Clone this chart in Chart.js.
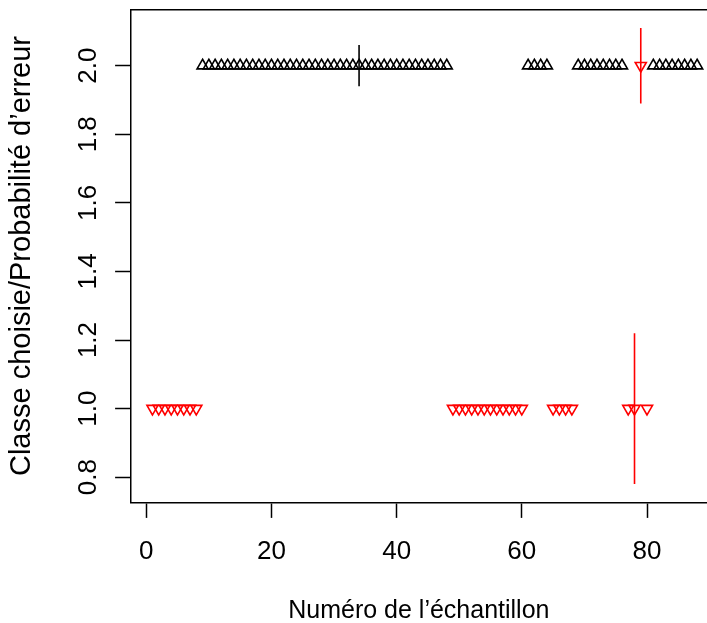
<!DOCTYPE html>
<html>
<head>
<meta charset="utf-8">
<script src="https://cdn.jsdelivr.net/npm/chart.js@4.4.1/dist/chart.umd.min.js"></script>
<style>
  html, body { margin: 0; padding: 0; background: #fff; overflow: hidden; }
  canvas { display: block; }
</style>
</head>
<body>
<canvas id="graphique" width="707" height="623"></canvas>
<script>
// classe choisie pour chaque échantillon (échantillons 1 à 88)
const classeChoisie = [
  1,1,1,1,1,1,1,1,2,2,
  2,2,2,2,2,2,2,2,2,2,
  2,2,2,2,2,2,2,2,2,2,
  2,2,2,2,2,2,2,2,2,2,
  2,2,2,2,2,2,2,2,1,1,
  1,1,1,1,1,1,1,1,1,1,
  2,2,2,2,1,1,1,1,2,2,
  2,2,2,2,2,2,1,1,2,1,
  2,2,2,2,2,2,2,2
];
// vraie classe (donne le symbole : 1 = triangle rouge pointe en bas, 2 = triangle noir)
const classeVraie = [
  1,1,1,1,1,1,1,1,2,2,
  2,2,2,2,2,2,2,2,2,2,
  2,2,2,2,2,2,2,2,2,2,
  2,2,2,2,2,2,2,2,2,2,
  2,2,2,2,2,2,2,2,1,1,
  1,1,1,1,1,1,1,1,1,1,
  2,2,2,2,1,1,1,1,2,2,
  2,2,2,2,2,2,1,1,1,1,
  2,2,2,2,2,2,2,2
];
// barres de probabilité d'erreur
const barreEchantillon = [34, 78, 79];
const barreBas = [1.94, 0.78, 1.89];
const barreHaut = [2.06, 1.22, 2.11];

const xTicks = [0, 20, 40, 60, 80];
const xTickLabels = ['0', '20', '40', '60', '80'];
const yTicks = [0.8, 1.0, 1.2, 1.4, 1.6, 1.8, 2.0];
const yTickLabels = ['0.8', '1.0', '1.2', '1.4', '1.6', '1.8', '2.0'];

const police = '"Liberation Sans", Arial, Helvetica, sans-serif';
const couleurs = { 1: '#ff0000', 2: '#000000' };

function points(classe) {
  const out = [];
  classeChoisie.forEach((c, i) => {
    if (classeVraie[i] === classe) out.push({ x: i + 1, y: c });
  });
  return out;
}

const datasets = [];
barreEchantillon.forEach((n, i) => {
  datasets.push({
    data: [{ x: n, y: barreBas[i] }, { x: n, y: barreHaut[i] }],
    showLine: true,
    borderColor: couleurs[classeVraie[n - 1]],
    borderWidth: 1.6,
    pointRadius: 0
  });
});
datasets.push({
  data: points(2),
  pointStyle: 'triangle',
  rotation: 0,
  pointRadius: 6.4,
  borderWidth: 1.6,
  borderColor: couleurs[2],
  backgroundColor: 'rgba(0,0,0,0)'
});
datasets.push({
  data: points(1),
  pointStyle: 'triangle',
  rotation: 180,
  pointRadius: 6.4,
  borderWidth: 1.6,
  borderColor: couleurs[1],
  backgroundColor: 'rgba(0,0,0,0)'
});

// cadre du haut + étiquettes verticales de l'axe y (style R)
const cadreR = {
  id: 'cadreR',
  afterDraw(chart) {
    const { ctx, chartArea, scales } = chart;
    ctx.save();
    ctx.strokeStyle = '#000';
    ctx.lineWidth = 1.5;
    ctx.beginPath();
    ctx.moveTo(chartArea.left, chartArea.top);
    ctx.lineTo(chart.width, chartArea.top);
    ctx.stroke();

    ctx.fillStyle = '#000';
    ctx.font = '26px ' + police;
    ctx.textAlign = 'center';
    ctx.textBaseline = 'alphabetic';
    yTicks.forEach((v, i) => {
      const y = scales.y.getPixelForValue(v);
      ctx.save();
      ctx.translate(chartArea.left - 35, y);
      ctx.rotate(-Math.PI / 2);
      ctx.fillText(yTickLabels[i], 0, 0);
      ctx.restore();
    });
    ctx.restore();
  }
};

const axeCommun = {
  grid: { drawOnChartArea: false, drawTicks: true, tickLength: 15.6, tickWidth: 1.5, tickColor: '#000' },
  border: { display: true, color: '#000', width: 1.5 }
};

new Chart(document.getElementById('graphique'), {
  type: 'scatter',
  data: { datasets },
  options: {
    responsive: false,
    animation: false,
    devicePixelRatio: 1,
    layout: { autoPadding: false, padding: { top: 9.7, right: 0, bottom: 0, left: 0 } },
    plugins: { legend: { display: false }, tooltip: { enabled: false } },
    scales: {
      x: {
        ...axeCommun,
        type: 'linear',
        position: 'bottom',
        min: -2.48,
        max: 89.58,
        afterFit: s => { s.height = 120.7; },
        afterBuildTicks: s => { s.ticks = xTicks.map(v => ({ value: v })); },
        ticks: {
          color: '#000',
          font: { family: police, size: 26 },
          padding: 18,
          maxRotation: 0,
          autoSkip: false,
          callback: v => xTickLabels[xTicks.indexOf(v)]
        },
        title: {
          display: true,
          text: 'Numéro de l’échantillon',
          color: '#000',
          font: { family: police, size: 25 },
          padding: { top: 0, bottom: -3 }
        }
      },
      y: {
        ...axeCommun,
        type: 'linear',
        position: 'left',
        min: 0.7268,
        max: 2.1632,
        afterFit: s => { s.width = 130.7; },
        afterBuildTicks: s => { s.ticks = yTicks.map(v => ({ value: v })); },
        ticks: { display: false },
        title: {
          display: true,
          text: 'Classe choisie/Probabilité d’erreur',
          color: '#000',
          font: { family: police, size: 29 },
          padding: { top: 5, bottom: 0 }
        }
      }
    }
  },
  plugins: [cadreR]
});
</script>
</body>
</html>
